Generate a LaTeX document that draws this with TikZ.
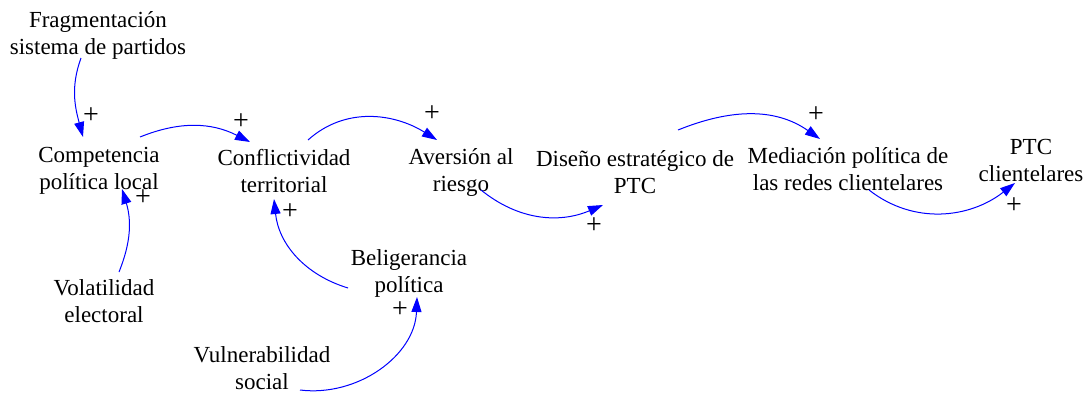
\documentclass[tikz,border=0pt]{standalone}
\usepackage{fontspec}
\setmainfont{Liberation Serif}
\newfontfamily\varfont{Liberation Serif}
\usetikzlibrary{arrows.meta}

\tikzset{
  var/.style={align=center, inner sep=1pt, font=\varfont\fontsize{23}{27}\selectfont},
  link/.style={blue, line width=1pt, -{Triangle[length=15pt,width=10pt]}},
  pol/.style={inner sep=0pt, font=\varfont\fontsize{28}{28}\selectfont}
}

\begin{document}
\begin{tikzpicture}[x=1pt,y=1pt]
        \useasboundingbox (0,0) rectangle (1090,-394);
        % variables
        \node[var] (frag) at (98,-35) {Fragmentación\\sistema de partidos};
        \node[var] (comp) at (99,-171) {Competencia\\política local};
        \node[var] (conf) at (284,-171) {Conflictividad\\territorial};
        \node[var] (avers) at (461,-172) {Aversión al\\riesgo};
        \node[var] (diseno) at (635,-172) {Diseño estratégico de\\PTC};
        \node[var] (media) at (848,-169) {Mediación política de\\las redes clientelares};
        \node[var] (ptcc) at (1031,-160) {PTC\\clientelares};
        \node[var] (belig) at (409,-273) {Beligerancia\\política};
        \node[var] (volat) at (104,-301) {Volatilidad\\electoral};
        \node[var] (vulner) at (262,-368) {Vulnerabilidad\\social};
        % links
        \draw[link] ([shift={(-17,-23)}]frag.center) to[out=250,in=105] ([shift={(-16,34)}]comp.center);
        \draw[link] ([shift={(41,34)}]comp.center) to[out=22,in=153] ([shift={(-34,29)}]conf.center);
        \draw[link] ([shift={(24,31)}]conf.center) to[out=42,in=148] ([shift={(-24,32)}]avers.center);
        \draw[link] ([shift={(20,-18)}]avers.center) to[out=-39,in=203] ([shift={(-32,-33)}]diseno.center);
        \draw[link] ([shift={(43,42)}]diseno.center) to[out=22,in=145] ([shift={(-28,30)}]media.center);
        \draw[link] ([shift={(21,-21)}]media.center) to[out=-38,in=218] ([shift={(-16,-23)}]ptcc.center);
        \draw[link] ([shift={(15,29)}]volat.center) to[out=68,in=287] ([shift={(23,-18)}]comp.center);
        \draw[link] ([shift={(-61,-15)}]belig.center) to[out=163,in=276] ([shift={(-10,-28)}]conf.center);
        \draw[link] ([shift={(38,-22)}]vulner.center) to[out=-7,in=268] ([shift={(8,-24)}]belig.center);
        % polarities
        \node[pol] (pa) at (91,-116) {+};
        \node[pol] (pb) at (241,-122) {+};
        \node[pol] (pc) at (432,-114) {+};
        \node[pol] (pd) at (594,-226) {+};
        \node[pol] (pe) at (816,-115) {+};
        \node[pol] (pf) at (1014,-206) {+};
        \node[pol] (pg) at (143,-198) {+};
        \node[pol] (ph) at (290,-212) {+};
        \node[pol] (pi) at (400,-310) {+};
\end{tikzpicture}
\end{document}
